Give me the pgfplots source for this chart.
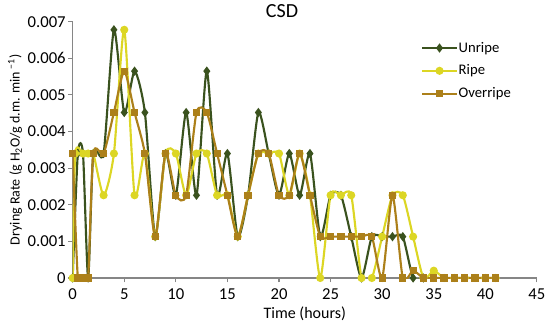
\documentclass[border=0pt]{standalone}
\usepackage{pgfplots}
\pgfplotsset{compat=1.18}
\usepackage{fontspec}
\setmainfont{Carlito}
\definecolor{cU}{RGB}{58,82,30}
\definecolor{cR}{RGB}{220,214,36}
\definecolor{cO}{RGB}{172,128,26}
\definecolor{axc}{RGB}{134,134,134}
\begin{document}
\begin{tikzpicture}
\useasboundingbox (-54.5pt,-35.25pt) rectangle (358pt,208.5pt);
\begin{axis}[
  scale only axis, width=348.2pt, height=192.2pt,
  xmin=0, xmax=45, ymin=0, ymax=0.007,
  xtick={0,5,10,15,20,25,30,35,40,45},
  ytick={0,0.001,0.002,0.003,0.004,0.005,0.006,0.007},
  yticklabels={0,0.001,0.002,0.003,0.004,0.005,0.006,0.007},
  scaled y ticks=false,
  /pgf/number format/assume math mode=true,
  axis x line*=bottom, axis y line*=left,
  axis line style={-, draw=axc, line width=0.8pt},
  tick style={draw=axc, line width=0.8pt},
  tick align=outside, major tick length=3.2pt,
  ticklabel style={font=\fontsize{12.5}{14}\selectfont},
  xticklabel style={yshift=-1.5pt},
  yticklabel style={xshift=1.5pt},
  xlabel={Time (hours)},
  ylabel={Drying Rate (g H\textsubscript{2}O/g d.m. min\,\textsuperscript{−1})},
  xlabel style={font=\fontsize{12}{14}\selectfont, at={(axis description cs:0.5,-0.138)}, anchor=center},
  ylabel style={font=\fontsize{10.5}{13}\selectfont, at={(axis description cs:-0.124,0.5)}, anchor=center},
  title={CSD},
  title style={at={(axis description cs:0.451,1.0)}, anchor=center, yshift=2pt, font=\fontsize{15}{17}\selectfont},
  legend style={at={(axis description cs:0.75,0.925)}, anchor=north west, draw=none, fill=none,
    font=\fontsize{11}{13}\selectfont, row sep=6.8pt, inner sep=0pt, nodes={inner sep=0.6pt}},
  legend cell align=left,
  legend image code/.code={\draw[#1, mark repeat=2, mark phase=2] plot coordinates {(0pt,0pt) (13pt,0pt) (26pt,0pt)};},
  every axis plot/.append style={line width=1.6pt, smooth, tension=0.4, mark size=2.2pt},
]
\addplot[color=cU, mark=diamond*, mark options={fill=cU}] coordinates {
(0,0) (0.5,0.0034) (1,0.0034) (1.5,0) (2,0.0034) (3,0.0034) (4,0.00678) (5,0.00452)
(6,0.00565) (7,0.00452) (8,0.00113) (9,0.0034) (10,0.00226) (11,0.00452) (12,0.00226)
(13,0.00565) (14,0.00226) (15,0.0034) (16,0.00113) (17,0.00226) (18,0.00452) (19,0.0034)
(20,0.00226) (21,0.0034) (22,0.00226) (23,0.0034) (24,0.00113) (25,0.00226) (26,0.00226)
(27,0.00113) (28,0) (29,0.00113) (30,0.00113) (31,0.00113) (32,0.00113) (33,0) (34,0)
};
\addlegendentry{Unripe}
\addplot[color=cR, mark=*, mark options={fill=cR}] coordinates {
(0,0) (0.25,0.0034) (1,0.0034) (1.5,0.0034) (2,0.0034) (3,0.00226) (4,0.0034) (5,0.00678)
(6,0.00226) (7,0.0034) (8,0.00113) (9,0.0034) (10,0.0034) (11,0.00226) (12,0.0034)
(13,0.0034) (14,0.00226) (15,0.00226) (16,0.00113) (17,0.00226) (18,0.0034) (19,0.0034)
(20,0.0034) (21,0.00226) (22,0.0034) (23,0.00226) (24,0) (25,0.00226) (26,0.00226)
(27,0.00226) (28,0) (29,0) (30,0.00113) (31,0.00226) (32,0.00226) (33,0.00113) (34,0)
(35,0.0002) (36,0) (37,0) (38,0) (39,0) (40,0) (41,0)
};
\addlegendentry{Ripe}
\addplot[color=cO, mark=square*, mark size=1.9pt, mark options={fill=cO}] coordinates {
(0,0.0034) (0.5,0) (1,0) (1.5,0) (2,0.0034) (3,0.0034) (4,0.00452) (5,0.00565)
(6,0.00452) (7,0.0034) (8,0.00113) (9,0.0034) (10,0.00226) (11,0.00226) (12,0.00452)
(13,0.00452) (14,0.0034) (15,0.00226) (16,0.00113) (17,0.00226) (18,0.0034) (19,0.0034)
(20,0.00226) (21,0.00226) (22,0.0034) (23,0.00226) (24,0.00113) (25,0.00113) (26,0.00113)
(27,0.00113) (28,0.00113) (29,0.00113) (30,0) (31,0.00226) (32,0) (33,0.0002) (34,0)
(35,0) (36,0) (37,0) (38,0) (39,0) (40,0) (41,0)
};
\addlegendentry{Overripe}
\end{axis}
\end{tikzpicture}
\end{document}
